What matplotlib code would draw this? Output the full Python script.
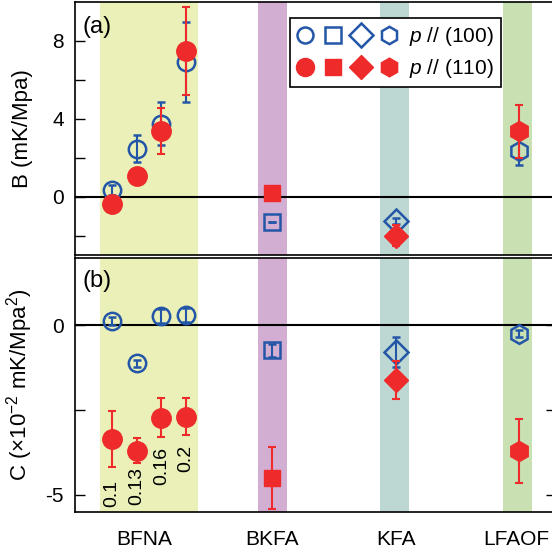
import numpy as np
import matplotlib
matplotlib.use('Agg')
import matplotlib.pyplot as plt
from matplotlib.lines import Line2D
from matplotlib.legend_handler import HandlerTuple

plt.rcParams['font.family'] = ['Liberation Sans', 'DejaVu Sans']
plt.rcParams['mathtext.fontset'] = 'custom'
plt.rcParams['mathtext.rm'] = 'Liberation Sans'
plt.rcParams['mathtext.it'] = 'Liberation Sans:italic'

# data
categories = ['BFNA', 'BKFA', 'KFA', 'LFAOF']
bfna_x = [1, 2, 3, 4]
bfna_doping = ['0.1', '0.13', '0.16', '0.2']
other_x = [7.5, 12.5, 17.5]
cat_tick_x = [2.3, 7.5, 12.5, 17.4]

# panel (a): B
B_bfna_100 = [0.35, 2.46, 3.75, 6.93]
B_bfna_100_err = [0.25, 0.7, 1.1, 2.05]
B_bfna_110 = [-0.37, 1.08, 3.39, 7.47]
B_bfna_110_err = [0.0, 0.0, 1.18, 2.26]
B_other_100 = [-1.3, -1.24, 2.32]
B_other_100_err = [0.0, 0.15, 0.7]
B_other_110 = [0.17, -2.0, 3.35]
B_other_110_err = [0.25, 0.55, 1.35]

# panel (b): C (x1e-2)
C_bfna_100 = [0.13, -1.12, 0.28, 0.30]
C_bfna_100_err = [0.12, 0.1, 0.2, 0.2]
C_bfna_110 = [-3.35, -3.70, -2.73, -2.70]
C_bfna_110_err = [0.83, 0.36, 0.58, 0.54]
C_other_100 = [-0.74, -0.79, -0.25]
C_other_100_err = [0.2, 0.45, 0.1]
C_other_110 = [-4.51, -1.62, -3.72]
C_other_110_err = [0.91, 0.55, 0.94]

# label positions under the BFNA (110) points
doping_label_y = [-4.56, -4.2, -3.61, -3.52]

blue = '#2456A8'
red = '#EE2A2A'
band_colors = ['#EAF0B8', '#D3AED3', '#BDD8D3', '#C8E0B2']
band_spans = [(0.5, 4.5), (6.9, 8.08), (11.88, 13.06), (16.85, 18.04)]
other_markers = ['s', 'D', 'h']
ms_100 = [11, 12, 13.5]
ms_110 = [12, 12.5, 14.5]

fig = plt.figure(figsize=(5.52, 5.52), dpi=100)
ax1 = fig.add_axes([75 / 552, 1 - 255 / 552, 481 / 552, 253 / 552])
ax2 = fig.add_axes([75 / 552, 1 - 511.5 / 552, 481 / 552, 254 / 552])

ekw = dict(elinewidth=1.5, capsize=3.2, capthick=1.5, linestyle='none')


def draw_panel(ax, y100, e100, y110, e110, o100, oe100, o110, oe110):
    for (a, b), c in zip(band_spans, band_colors):
        ax.axvspan(a, b, color=c, lw=0, zorder=0)
    ax.axhline(0, color='black', lw=1.5, zorder=1)
    ax.errorbar(bfna_x, y100, yerr=e100, fmt='o', ms=12.5, mfc='none', mec=blue,
                mew=1.8, color=blue, zorder=3, **ekw)
    ax.errorbar(bfna_x, y110, yerr=e110, fmt='o', ms=14, mfc=red, mec=red,
                color=red, zorder=4, **ekw)
    for i in range(3):
        ax.errorbar(other_x[i], o100[i], yerr=oe100[i], fmt=other_markers[i],
                    ms=ms_100[i], mfc='none', mec=blue, mew=1.8, color=blue,
                    zorder=3, **ekw)
        ax.errorbar(other_x[i], o110[i], yerr=oe110[i], fmt=other_markers[i],
                    ms=ms_110[i], mfc=red, mec=red, color=red,
                    zorder=4, **ekw)
    ax.set_xlim(-0.5, 19)
    ax.tick_params(axis='y', direction='in', length=7, width=1, labelsize=15, pad=8)
    ax.tick_params(axis='x', length=0)
    for s in ax.spines.values():
        s.set_linewidth(1.2)


draw_panel(ax1, B_bfna_100, B_bfna_100_err, B_bfna_110, B_bfna_110_err,
           B_other_100, B_other_100_err, B_other_110, B_other_110_err)
draw_panel(ax2, C_bfna_100, C_bfna_100_err, C_bfna_110, C_bfna_110_err,
           C_other_100, C_other_100_err, C_other_110, C_other_110_err)

ax1.set_ylim(-3, 10)
ax1.set_yticks([-2, 0, 2, 4, 6, 8])
ax1.set_yticklabels(['', '0', '', '4', '', '8'])
ax1.set_xticks([])
ax1.set_ylabel('B (mK/Mpa)', fontsize=16)
ax1.yaxis.set_label_coords(-0.087, 0.5)
ax1.text(0.016, 0.945, '(a)', transform=ax1.transAxes, fontsize=17, va='top')

ax2.set_ylim(-5.5, 2)
ax2.set_yticks([-5, -2.5, 0])
ax2.set_yticklabels(['-5', '', '0'])
ax2.tick_params(axis='y', right=True)
ax2.set_xticks(cat_tick_x)
ax2.set_xticklabels(categories, fontsize=15)
ax2.tick_params(axis='x', pad=13)
ax2.set_ylabel('C ($\\times$10$^{-2}$ mK/Mpa$^{2}$)', fontsize=16)
ax2.yaxis.set_label_coords(-0.083, 0.5)
ax2.text(0.016, 0.95, '(b)', transform=ax2.transAxes, fontsize=17, va='top')

for x, y, t in zip(bfna_x, doping_label_y, bfna_doping):
    ax2.text(x, y, t, rotation=90, ha='center', va='top', fontsize=14, zorder=5)

# legend
h100 = tuple(Line2D([], [], marker=m, ms=s, mfc='none', mec=blue, mew=1.8, ls='none')
             for m, s in zip(['o', 's', 'D', 'h'], [11.5, 11, 12, 12.5]))
h110 = tuple(Line2D([], [], marker=m, ms=s, mfc=red, mec=red, ls='none')
             for m, s in zip(['o', 's', 'D', 'h'], [13, 12, 12.7, 13.5]))
leg = ax1.legend([h100, h110], ['$p$ // (100)', '$p$ // (110)'],
                 handler_map={tuple: HandlerTuple(ndivide=None, pad=0.58)},
                 loc='upper left', bbox_to_anchor=(0.447, 0.937),
                 fontsize=15, handlelength=4.8, handletextpad=0.55,
                 borderpad=0.35, labelspacing=0.42, borderaxespad=0,
                 fancybox=False, framealpha=1, edgecolor='black')
leg.get_frame().set_linewidth(1.2)

fig.savefig('out.png', dpi=100)
